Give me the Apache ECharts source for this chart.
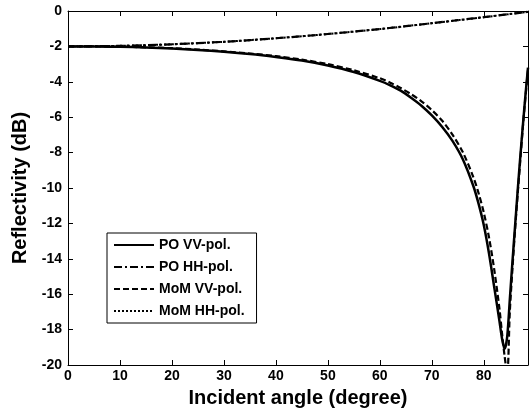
<!DOCTYPE html>
<html><head><meta charset="utf-8">
<script src="https://cdn.jsdelivr.net/npm/echarts@6/dist/echarts.min.js"></script>
<style>html,body{margin:0;padding:0;background:#fff}#c{width:531px;height:413px}</style>
</head><body><div id="c"></div>
<script>
// ---- data ----
const anglesVV = [0,5,10,15,20,25,30,35,40,45,50,55,60,62,64,66,68,70,72,74,76,78,79,80,81,82,83,83.5,84,84.5,85,85.5,86,86.5,87,87.5,88,88.5];
const poVV  = [-2.0,-2.0,-2.02,-2.06,-2.12,-2.2,-2.3,-2.43,-2.6,-2.8,-3.08,-3.45,-3.95,-4.2,-4.5,-4.9,-5.35,-5.9,-6.55,-7.35,-8.4,-9.9,-10.9,-12.1,-13.7,-15.6,-17.5,-18.5,-19.1,-18.4,-16.3,-14.2,-12.2,-10.2,-8.3,-6.5,-4.8,-3.2];
const momVV = [-2.0,-2.0,-2.02,-2.05,-2.1,-2.18,-2.28,-2.4,-2.55,-2.75,-3.0,-3.35,-3.8,-4.05,-4.35,-4.7,-5.1,-5.6,-6.2,-7.0,-8.0,-9.4,-10.3,-11.4,-12.8,-14.6,-16.8,-18.2,-19.5,-20.5,-17.0,-14.6,-12.4,-10.4,-8.5,-6.6,-4.9,-3.3];
const anglesHH = [0,10,20,30,40,50,60,70,75,80,85,88.5];
const poHH  = [-2.0,-1.97,-1.88,-1.74,-1.54,-1.3,-1.02,-0.69,-0.52,-0.35,-0.17,-0.05];
const momHH = [-2.0,-1.97,-1.88,-1.74,-1.54,-1.3,-1.02,-0.69,-0.52,-0.35,-0.17,-0.05];
const xTicks = [0,10,20,30,40,50,60,70,80];
const yTicks = [0,-2,-4,-6,-8,-10,-12,-14,-16,-18,-20];
const names = ['PO VV-pol.','PO HH-pol.','MoM VV-pol.','MoM HH-pol.'];

const zip = (xs, ys) => xs.map((x,i)=>[x, ys[i]]);
const F = 'Liberation Sans, Arial, sans-serif';
const lbl = {fontFamily:F, fontWeight:'bold', fontSize:14, color:'#000'};

const chart = echarts.init(document.getElementById('c'), null, {renderer:'canvas'});
const xBase = {type:'value', min:0, max:88.5, interval:10,
  axisLine:{show:true, onZero:false, lineStyle:{color:'#000', width:1}},
  axisTick:{show:true, inside:true, length:5, lineStyle:{color:'#000'}},
  splitLine:{show:false}};
const yBase = {type:'value', min:-20, max:0, interval:2,
  axisLine:{show:true, onZero:false, lineStyle:{color:'#000', width:1}},
  axisTick:{show:true, inside:true, length:5, lineStyle:{color:'#000'}},
  splitLine:{show:false}};
chart.setOption({
  animation:false,
  backgroundColor:'#fff',
  grid:{left:68, right:3, top:11, bottom:44, containLabel:false},
  xAxis:[
    Object.assign({}, xBase, {position:'bottom', name:'Incident angle (degree)', nameLocation:'middle', nameGap:23,
      nameTextStyle:{fontFamily:F, fontWeight:'bold', fontSize:20, color:'#000'},
      axisLabel:Object.assign({}, lbl, {margin:4, formatter:v => xTicks.includes(v) ? String(v) : ''})}),
    Object.assign({}, xBase, {position:'top', axisLabel:{show:false}})
  ],
  yAxis:[
    Object.assign({}, yBase, {position:'left', name:'Reflectivity (dB)', nameLocation:'middle', nameGap:34,
      nameTextStyle:{fontFamily:F, fontWeight:'bold', fontSize:20, color:'#000'},
      axisLabel:Object.assign({}, lbl, {margin:6, formatter:v => yTicks.includes(v) ? String(v) : ''})}),
    Object.assign({}, yBase, {position:'right', axisLabel:{show:false}})
  ],
  legend:{
    orient:'vertical', left:107, top:233, data:names,
    backgroundColor:'#fff', borderColor:'#000', borderWidth:1, borderRadius:0,
    padding:[5,12,5,6], itemGap:8, itemWidth:40, itemHeight:14,
    itemStyle:{opacity:0},
    textStyle:Object.assign({}, lbl, {fontSize:14}),
    selectedMode:false
  },
  series:[
    {name:names[0], type:'line', data:zip(anglesVV, poVV), symbol:'none', smooth:0.3,
      lineStyle:{color:'#000', width:2.5, type:'solid'}, itemStyle:{color:'#000'}, z:3},
    {name:names[1], type:'line', data:zip(anglesHH, poHH), symbol:'none', smooth:0.3,
      lineStyle:{color:'#000', width:2.2, type:[8,3,2,3]}, itemStyle:{color:'#000'}, z:2},
    {name:names[2], type:'line', data:zip(anglesVV, momVV), symbol:'none', smooth:0.3,
      lineStyle:{color:'#000', width:2.2, type:[6,3]}, itemStyle:{color:'#000'}, z:2},
    {name:names[3], type:'line', data:zip(anglesHH, momHH), symbol:'none', smooth:0.3,
      lineStyle:{color:'#000', width:2, type:[2,2]}, itemStyle:{color:'#000'}, z:1}
  ]
});
</script></body></html>
